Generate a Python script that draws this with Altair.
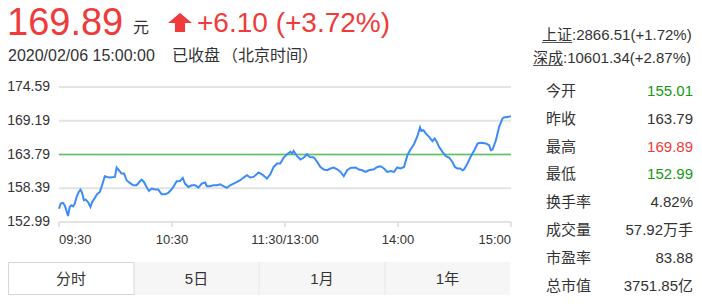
import altair as alt
import pandas as pd

# ---------------- data ----------------
minutes = [0, 0.9, 2.1, 3.0, 3.9, 4.8, 5.7, 6.6, 7.5, 8.4, 9.3, 10.5, 11.4, 12.3, 13.2, 14.2,
           15.4, 16.7, 17.6, 19.0, 20.2, 21.7, 22.6, 23.4, 24.3, 25.6, 27.0, 29.7, 30.6, 31.8,
           33.2, 34.5, 35.9, 37.6, 39.4, 41.2, 43.0, 43.9, 45.1, 46.5, 47.8, 49.2, 51.0, 52.7,
           54.5, 56.3, 58.0, 59.3, 60.7, 62.5, 64.3, 65.7, 66.9, 68.7, 70.5, 72.3, 74.0, 75.8,
           77.6, 78.5, 80.2, 82.0, 83.8, 85.6, 87.3, 89.1, 90.9, 92.7, 94.5, 96.2, 98.0, 99.8,
           101.5, 103.3, 106.0, 107.8, 110.4, 112.2, 114.0, 115.8, 117.5, 119.3, 121.1, 122.9,
           123.8, 124.6, 126.4, 128.2, 130.0, 131.7, 133.1, 135.3, 137.1, 138.8, 140.6, 142.4,
           144.1, 145.9, 148.0, 149.5, 151.2, 153.0, 154.8, 157.5, 159.2, 161.0, 162.8, 164.5,
           167.2, 169.0, 170.8, 172.5, 174.3, 176.1, 177.9, 179.6, 181.4, 183.2, 185.0, 186.4,
           188.5, 190.3, 191.7, 192.4, 193.5, 194.7, 196.5, 198.3, 199.5, 200.6, 201.8, 203.6,
           205.4, 207.1, 208.9, 210.2, 211.6, 213.0, 214.3, 215.1, 216.9, 218.7, 220.5, 222.3,
           224.0, 226.7, 228.4, 229.3, 230.2, 232.0, 233.7, 235.5, 236.4, 240]
prices = [155.10, 155.94, 156.04, 155.67, 154.86, 153.95, 155.39, 155.67, 155.50, 155.94, 156.99,
          157.80, 158.18, 157.64, 156.47, 156.58, 156.19, 155.39, 156.19, 156.83, 157.43, 157.80,
          158.60, 159.40, 160.31, 160.20, 160.10, 160.20, 161.71, 161.27, 160.75, 160.75, 159.67,
          159.24, 158.87, 158.87, 159.51, 159.78, 159.40, 158.60, 157.96, 158.34, 158.18, 158.18,
          157.43, 157.43, 157.64, 158.07, 158.60, 159.51, 159.56, 160.04, 159.14, 158.60, 158.87,
          158.87, 158.50, 159.14, 159.30, 158.71, 158.71, 158.87, 158.87, 159.03, 158.71, 158.44,
          158.87, 159.14, 159.40, 159.67, 160.10, 160.47, 160.10, 160.20, 160.90, 160.63, 159.94,
          160.63, 161.80, 162.35, 162.35, 163.31, 163.84, 164.21, 163.95, 164.37, 163.52, 162.99,
          163.31, 163.84, 163.41, 163.31, 162.60, 161.80, 161.39, 161.27, 161.55, 161.71, 161.39,
          161.00, 160.31, 161.27, 161.65, 161.71, 161.39, 161.27, 161.00, 161.27, 161.43, 161.80,
          161.91, 161.55, 161.00, 161.16, 161.00, 161.71, 161.55, 161.80, 163.68, 164.48, 165.44,
          166.72, 168.12, 167.57, 167.68, 167.16, 166.61, 165.92, 166.35, 165.81, 165.01, 164.21,
          163.52, 163.31, 162.60, 161.80, 161.55, 161.55, 161.27, 161.43, 162.35, 163.52, 164.48,
          165.55, 165.65, 165.55, 165.28, 164.48, 164.59, 166.08, 168.21, 169.56, 169.72, 169.89]
assert len(minutes) == len(prices)

prev_close = 163.79
y_ticks = [152.99, 158.39, 163.79, 169.19, 174.59]
x_tick_values = [0, 60, 120, 180, 240]
x_tick_labels = ["09:30", "10:30", "11:30/13:00", "14:00", "15:00"]

price_text = "169.89"
currency = "元"
change_text = "+6.10 (+3.72%)"
timestamp = "2020/02/06 15:00:00"
status = "已收盘"
tz_note = "（北京时间）"
index_names = ["上证", "深成"]
index_values = [":2866.51(+1.72%)", ":10601.34(+2.87%)"]
stat_labels = ["今开", "昨收", "最高", "最低", "换手率", "成交量", "市盈率", "总市值"]
stat_values = ["155.01", "163.79", "169.89", "152.99", "4.82%", "57.92万手", "83.88", "3751.85亿"]
stat_kinds = ["down", "flat", "up", "down", "flat", "flat", "flat", "flat"]
tabs = ["分时", "5日", "1月", "1年"]

# ---------------- style ----------------
RED = "#ef3b3b"
GREEN = "#129a12"
DARK = "#333333"
BLUE = "#3d8bf6"
REF = "#5cc65c"
GRID = "#e3e3e3"
FONT = "Liberation Sans, Noto Sans CJK SC, sans-serif"
kind_color = {"up": RED, "down": GREEN, "flat": DARK}

OX, OY = 59, 87          # plot origin on the canvas
W, H = 452, 135          # plot size


def txt(s, x, y, size, color=DARK, align="left", baseline="alphabetic"):
    return alt.Chart(pd.DataFrame({"t": [s]})).mark_text(
        align=align, baseline=baseline, fontSize=size, color=color, font=FONT
    ).encode(x=alt.value(x - OX), y=alt.value(y - OY), text="t:N")


def rect(x1, x2, y1, y2, **kw):
    return alt.Chart(pd.DataFrame({"a": [0]})).mark_rect(**kw).encode(
        x=alt.value(x1 - OX), x2=alt.value(x2 - OX), y=alt.value(y1 - OY), y2=alt.value(y2 - OY))


def hrule(x1, x2, y, color, width=1):
    return alt.Chart(pd.DataFrame({"a": [0]})).mark_rule(color=color, strokeWidth=width).encode(
        x=alt.value(x1 - OX), x2=alt.value(x2 - OX), y=alt.value(y - OY))


# ---------------- main plot ----------------
x_scale = alt.Scale(domain=[0, 240], nice=False, zero=False)
y_scale = alt.Scale(domain=[y_ticks[0], y_ticks[-1]], nice=False, zero=False)


def X(field="minute"):
    return alt.X(f"{field}:Q", scale=x_scale, axis=None)


def Y(field="price"):
    return alt.Y(f"{field}:Q", scale=y_scale, axis=None)


df_line = pd.DataFrame({"minute": minutes, "price": prices})
df_yt = pd.DataFrame({"price": y_ticks})
df_xt = pd.DataFrame({"minute": x_tick_values, "label": x_tick_labels})

# gridlines and axis ticks drawn as filled tick marks
grid = alt.Chart(df_yt).mark_tick(orient="horizontal", size=W, thickness=2, color=GRID,
                                  opacity=1).encode(y=Y(), x=alt.value(W / 2))
xticks = alt.Chart(df_xt).mark_tick(orient="vertical", size=5, thickness=1.4, color="#d8d8d8",
                                    opacity=1).encode(x=X(), y=alt.value(H + 2.5))
ylab = alt.Chart(df_yt).mark_text(align="right", baseline="middle", fontSize=14, color=DARK,
                                  font=FONT).encode(
    y=Y(), x=alt.value(-9), text=alt.Text("price:Q", format=".2f"))


def xlab(sub, align):
    return alt.Chart(sub).mark_text(align=align, baseline="middle", fontSize=13, color=DARK,
                                    font=FONT).encode(
        x=X(), y=alt.value(H + 18), text="label:N")


xlabs = [xlab(df_xt.iloc[:1], "left"), xlab(df_xt.iloc[1:-1], "center"),
         xlab(df_xt.iloc[-1:], "right")]

ref = alt.Chart(pd.DataFrame({"price": [prev_close]})).mark_rule(
    color=REF, strokeWidth=1.3).encode(y=Y())
line = alt.Chart(df_line).mark_line(color=BLUE, strokeWidth=2).encode(x=X(), y=Y())

layers = [grid, xticks, ylab] + xlabs + [ref, line]

# ---------------- header ----------------
ARROW = "M0,-0.8 L1,0.05 L0.42,0.05 L0.42,0.8 L-0.42,0.8 L-0.42,0.05 L-1,0.05 Z"
arrow = alt.Chart(pd.DataFrame({"a": [0]})).mark_point(
    shape=ARROW, size=576, filled=True, color=RED, opacity=1, strokeWidth=0
).encode(x=alt.value(180 - OX), y=alt.value(22.5 - OY))

layers += [
    txt(price_text, 7, 35, 38, RED),
    txt(currency, 133, 33, 16, DARK),
    arrow,
    txt(change_text, 197, 32, 28, RED),
    txt(timestamp, 8, 61, 16, DARK),
    txt(status, 172, 61, 16, DARK),
    txt(tz_note, 222, 61, 16, DARK),
]

# ---------------- right panel ----------------
idx_x = [542, 533]
idx_y = [40, 63]
for name, val, x0, y0 in zip(index_names, index_values, idx_x, idx_y):
    layers.append(txt(name, x0, y0, 15, DARK))
    layers.append(txt(val, x0 + 30, y0, 15, DARK))
    layers.append(hrule(x0, x0 + 30, y0 + 2.5, "#555555", 1))

for i, (lab, val, kind) in enumerate(zip(stat_labels, stat_values, stat_kinds)):
    yc = 91 + 27.8 * i
    layers.append(txt(lab, 546, yc, 15, DARK, baseline="middle"))
    layers.append(txt(val, 693, yc, 15, kind_color[kind], align="right", baseline="middle"))

# ---------------- tabs ----------------
edges = [8, 134, 259, 385, 510]
layers.append(rect(edges[1], edges[-1], 262, 295, fill="#f6f6f6"))
for e in edges[2:-1]:
    layers.append(rect(e - 0.5, e + 0.5, 262, 295, fill="#e8e8e8"))
layers.append(rect(edges[0] + 0.5, edges[1], 262.5, 294.5, fill="white", stroke="#d6d6d6",
                   strokeWidth=1))
for i, t in enumerate(tabs):
    layers.append(txt(t, (edges[i] + edges[i + 1]) / 2, 278.5, 15, DARK, align="center",
                      baseline="middle"))

chart = alt.layer(*layers).properties(
    width=W, height=H,
    autosize=alt.AutoSizeParams(type="none"),
    padding={"left": OX, "top": OY, "right": 702 - OX - W, "bottom": 304 - OY - H},
    background="white",
).configure_view(stroke=None)

chart.save("out.html", embed_options={"renderer": "svg", "actions": False})
